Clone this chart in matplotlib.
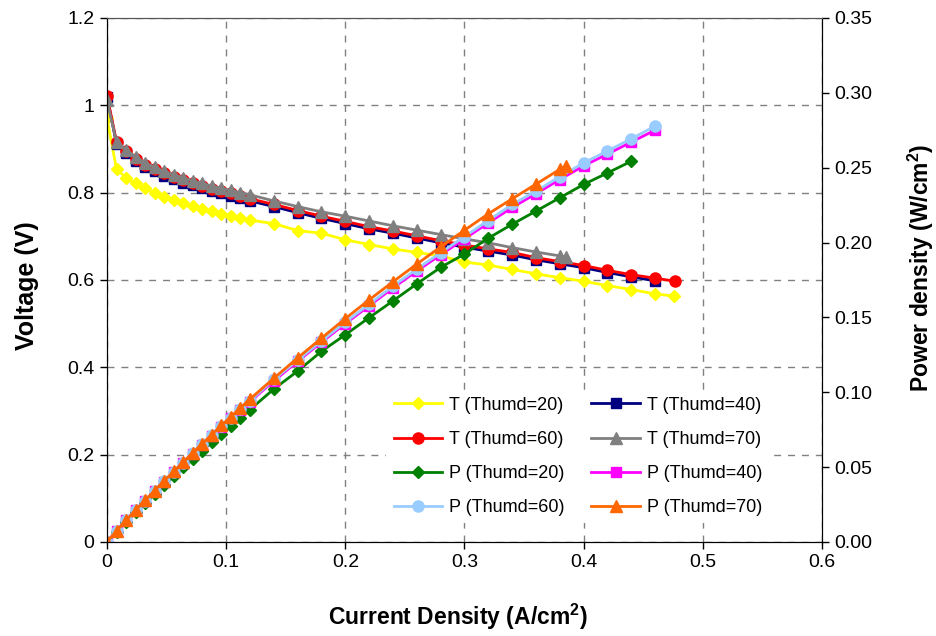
import matplotlib
matplotlib.use("Agg")
import matplotlib.pyplot as plt
from matplotlib.ticker import MultipleLocator, FuncFormatter

plt.rcParams['font.family'] = ['Liberation Sans', 'DejaVu Sans']
plt.rcParams['mathtext.fontset'] = 'custom'
plt.rcParams['mathtext.rm'] = 'Liberation Sans'
plt.rcParams['mathtext.bf'] = 'Liberation Sans:bold'

# current density grid (A/cm2)
I = [0, 0.008, 0.016, 0.024, 0.032, 0.04, 0.048, 0.056, 0.064, 0.072, 0.08,
     0.088, 0.096, 0.104, 0.112, 0.12, 0.14, 0.16, 0.18, 0.20, 0.22, 0.24,
     0.26, 0.28, 0.30, 0.32, 0.34, 0.36, 0.38, 0.40, 0.42, 0.44, 0.46]

# voltage curves (V)
t20 = [0.970, 0.854, 0.834, 0.821, 0.810, 0.799, 0.790, 0.782, 0.776, 0.769, 0.763,
       0.757, 0.752, 0.746, 0.741, 0.737, 0.729, 0.713, 0.707, 0.692, 0.681, 0.671,
       0.663, 0.655, 0.641, 0.634, 0.624, 0.614, 0.605, 0.597, 0.587, 0.578, 0.568, 0.563]
i_t20 = I + [0.476]

t40 = [1.020, 0.912, 0.891, 0.873, 0.859, 0.849, 0.839, 0.831, 0.823, 0.817, 0.810,
       0.804, 0.798, 0.793, 0.787, 0.781, 0.768, 0.754, 0.741, 0.729, 0.717, 0.707,
       0.696, 0.685, 0.675, 0.666, 0.657, 0.646, 0.637, 0.628, 0.617, 0.607, 0.598]
i_t40 = I

t60 = [1.022, 0.917, 0.895, 0.878, 0.864, 0.854, 0.844, 0.836, 0.828, 0.822, 0.815,
       0.809, 0.803, 0.798, 0.792, 0.786, 0.773, 0.759, 0.746, 0.734, 0.722, 0.712,
       0.701, 0.690, 0.680, 0.671, 0.663, 0.651, 0.642, 0.633, 0.622, 0.612, 0.604, 0.597]
i_t60 = I + [0.477]

t70 = [1.012, 0.915, 0.898, 0.882, 0.868, 0.858, 0.849, 0.841, 0.834, 0.827, 0.821,
       0.815, 0.810, 0.805, 0.800, 0.795, 0.781, 0.768, 0.756, 0.746, 0.735, 0.724,
       0.714, 0.704, 0.694, 0.685, 0.674, 0.664, 0.655, 0.652]
i_t70 = I[:29] + [0.385]

# power density curves (W/cm2)
p20 = [0, 0.0068, 0.0133, 0.0197, 0.0259, 0.0320, 0.0379, 0.0438, 0.0497, 0.0554, 0.0610,
       0.0666, 0.0722, 0.0776, 0.0830, 0.0884, 0.1021, 0.1141, 0.1273, 0.1384, 0.1498,
       0.1610, 0.1724, 0.1834, 0.1923, 0.2029, 0.2122, 0.2210, 0.2299, 0.2388, 0.2465, 0.2543]
i_p20 = I[:32]

p40 = [0, 0.0073, 0.0143, 0.0210, 0.0275, 0.0340, 0.0403, 0.0465, 0.0527, 0.0588, 0.0648,
       0.0708, 0.0766, 0.0825, 0.0881, 0.0937, 0.1075, 0.1206, 0.1334, 0.1458, 0.1577,
       0.1697, 0.1810, 0.1918, 0.2025, 0.2131, 0.2234, 0.2326, 0.2421, 0.2512, 0.2591,
       0.2671, 0.2751]
i_p40 = I

p60 = [0, 0.0073, 0.0143, 0.0211, 0.0276, 0.0342, 0.0405, 0.0468, 0.0530, 0.0592, 0.0652,
       0.0712, 0.0771, 0.0830, 0.0887, 0.0943, 0.1085, 0.1214, 0.1343, 0.1468, 0.1588,
       0.1709, 0.1823, 0.1932, 0.2040, 0.2147, 0.2254, 0.2344, 0.2440, 0.2532, 0.2612,
       0.2693, 0.2778]
i_p60 = I

p70 = [0, 0.0073, 0.0144, 0.0212, 0.0278, 0.0343, 0.0408, 0.0471, 0.0534, 0.0595, 0.0657,
       0.0717, 0.0778, 0.0837, 0.0896, 0.0954, 0.1093, 0.1229, 0.1361, 0.1492, 0.1617,
       0.1738, 0.1856, 0.1971, 0.2082, 0.2192, 0.2292, 0.2390, 0.2489, 0.2510]
i_p70 = I[:29] + [0.385]

fig = plt.figure(figsize=(9.36, 6.36), dpi=100)
ax = fig.add_axes([0.1143, 0.148, 0.7639, 0.8237])
ax2 = ax.twinx()

lw = 2
ms = 7
h = {}
h['T20'], = ax.plot(i_t20, t20, color='#FFFF00', marker='D', ms=6, lw=lw, label='T (Thumd=20)')
h['T40'], = ax.plot(i_t40, t40, color='#000080', marker='s', ms=ms, lw=lw, label='T (Thumd=40)')
h['T60'], = ax.plot(i_t60, t60, color='#FF0000', marker='o', ms=ms + 1, lw=lw, label='T (Thumd=60)')
h['T70'], = ax.plot(i_t70, t70, color='#808080', marker='^', ms=ms + 1, lw=lw, label='T (Thumd=70)')

h['P20'], = ax2.plot(i_p20, p20, color='#008000', marker='D', ms=6, lw=lw, label='P (Thumd=20)')
h['P40'], = ax2.plot(i_p40, p40, color='#FF00FF', marker='s', ms=ms, lw=lw, label='P (Thumd=40)')
h['P60'], = ax2.plot(i_p60, p60, color='#99CCFF', marker='o', ms=ms + 1, lw=lw, label='P (Thumd=60)')
h['P70'], = ax2.plot(i_p70, p70, color='#FF6600', marker='^', ms=ms + 1, lw=lw, label='P (Thumd=70)')

ax.set_xlim(0, 0.6)
ax.set_ylim(0, 1.2)
ax2.set_ylim(0, 0.35)

ax.xaxis.set_major_locator(MultipleLocator(0.1))
ax.yaxis.set_major_locator(MultipleLocator(0.2))
ax2.yaxis.set_major_locator(MultipleLocator(0.05))
ax.xaxis.set_major_formatter(FuncFormatter(lambda v, p: '%g' % round(v, 3)))
ax.yaxis.set_major_formatter(FuncFormatter(lambda v, p: '%g' % round(v, 3)))
ax2.yaxis.set_major_formatter(FuncFormatter(lambda v, p: '%.2f' % v))

ax.grid(True, color='#808080', linestyle=(0, (5, 5)), lw=1)
ax.set_axisbelow(True)

for a in (ax, ax2):
    a.spines['top'].set_color('#555555')
    a.tick_params(direction='out', length=5, width=1, labelsize=14, pad=4)

ax.set_xlabel('Current Density (A/cm$\\mathbf{^2}$)', fontsize=16.5, fontweight='bold', labelpad=22)
ax.xaxis.label.set_x(0.491)
ax.set_ylabel('Voltage (V)', fontsize=18, fontweight='bold', labelpad=20)
ax.yaxis.label.set_y(0.49)
ax2.set_ylabel('Power density (W/cm$\\mathbf{^2}$)', fontsize=16.5, fontweight='bold', labelpad=24)
ax2.yaxis.label.set_y(0.523)

order = ['T20', 'T60', 'P20', 'P60', 'T40', 'T70', 'P40', 'P70']
leg = ax2.legend([h[k] for k in order], [h[k].get_label() for k in order],
                 ncol=2, loc='lower left', bbox_to_anchor=(0.378, 0.018),
                 fontsize=13, frameon=True, framealpha=1, edgecolor='none',
                 fancybox=False, handlelength=2.7, columnspacing=1.45,
                 labelspacing=0.95, handletextpad=0.4)

fig.savefig('out.png', dpi=100)
